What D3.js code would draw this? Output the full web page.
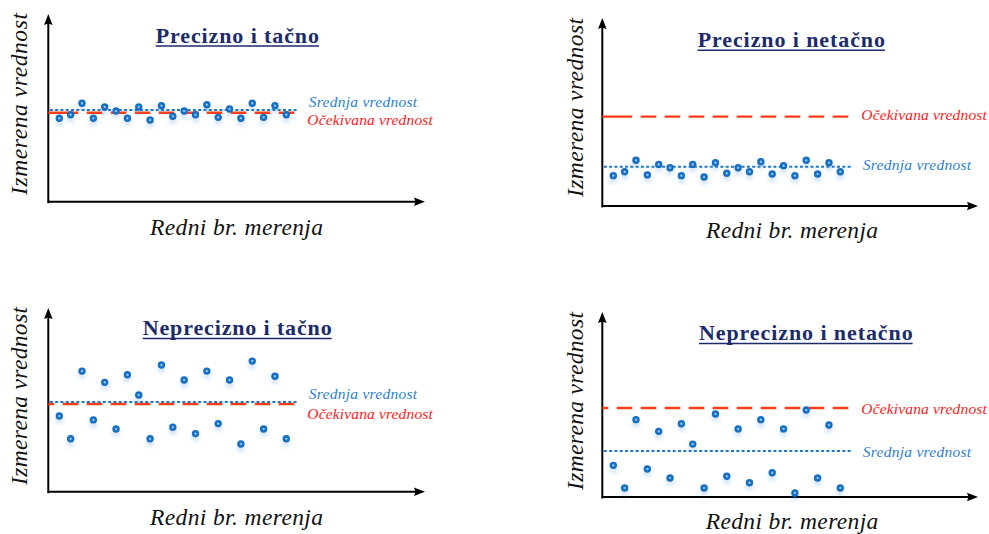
<!DOCTYPE html>
<html><head><meta charset="utf-8">
<script src="https://cdn.jsdelivr.net/npm/d3@7"></script>
<style>html,body{margin:0;padding:0;background:#fff;} svg{display:block;}</style>
</head><body>
<svg id="chart" width="989" height="534"></svg>
<script>
// ---------- DATA ----------
const measurementNo = [1,2,3,4,5,6,7,8,9,10,11,12,13,14,15,16,17,18,19,20,21];
const titles = ["Precizno i tačno", "Precizno i netačno", "Neprecizno i tačno", "Neprecizno i netačno"];
const xAxisLabel = "Redni br. merenja";
const yAxisLabel = "Izmerena vrednost";
const meanLabel = "Srednja vrednost";
const expectedLabel = "Očekivana vrednost";

const valuesPreciseAccurate   = [45.1, 47.0, 53.2, 45.1, 51.2, 49.0, 45.1, 51.2, 44.2, 51.9, 46.2, 49.0, 47.0, 52.4, 45.6, 50.1, 45.1, 53.2, 45.6, 51.9, 47.0];
const valuesPreciseInaccurate = [16.4, 18.5, 24.7, 16.8, 22.5, 20.7, 16.4, 22.5, 15.7, 23.4, 17.7, 20.7, 18.5, 23.9, 17.3, 21.8, 16.4, 24.7, 17.3, 23.4, 18.5];
const valuesImpreciseAccurate = [40.9, 28.6, 65.2, 38.8, 59.1, 33.9, 63.2, 52.3, 28.6, 68.5, 34.8, 60.4, 31.4, 65.2, 36.8, 60.4, 25.8, 70.6, 33.9, 62.4, 28.6];
const valuesImpreciseInaccurate = [17.1, 4.9, 41.8, 15.1, 35.5, 10.3, 39.6, 28.6, 4.9, 44.9, 11.2, 36.8, 7.7, 41.8, 13.1, 36.8, 2.2, 47.0, 10.3, 38.9, 4.9];
const meanValues     = [49.6, 21.2, 48.5, 24.9];
const expectedValues = [48.1, 48.3, 47.4, 48.1];

const seriesValues = [valuesPreciseAccurate, valuesPreciseInaccurate, valuesImpreciseAccurate, valuesImpreciseInaccurate];

// ---------- LAYOUT (positions / styles) ----------
const layout = [
  {ox:48.3,  oy:201.7, top:14,  right:425, titleX:237.3, titleY:42.5, titleW:163.3, xLabX:236.5, xLabY:235, xLabW:173,   yLabX:27,  yLabY:104,   yLabW:182, meanDy:-3,  expDy:12.6, longFirst:true},
  {ox:602.3, oy:206,   top:18,  right:978, titleX:791.3, titleY:46.7, titleW:187.3, xLabX:792,   xLabY:238, xLabW:172,   yLabX:583, yLabY:107.5, yLabW:179, meanDy:3.3, expDy:3.3,  longFirst:true},
  {ox:48.3,  oy:491.7, top:308, right:425, titleX:237.2, titleY:335,  titleW:189,   xLabX:236.5, xLabY:525, xLabW:173,   yLabX:27,  yLabY:396,   yLabW:178, meanDy:-2.7,expDy:15.3, longFirst:false},
  {ox:602.3, oy:497,   top:312, right:978, titleX:805.8, titleY:340,  titleW:213.7, xLabX:792,   xLabY:529, xLabW:172.6, yLabX:583, yLabY:401,   yLabW:178, meanDy:5.7, expDy:6,    longFirst:false}
];
const serif = "'Liberation Serif','Times New Roman',Times,serif";
const navy = "#1c2b6b", red = "#ff3c14", blue = "#1f77c8", blueText = "#2a7fd2", redText = "#ff1a1a";

const svg = d3.select("#chart");
svg.append("rect").attr("width", 989).attr("height", 534).attr("fill", "#fff");
const defs = svg.append("defs");
const grad = defs.append("radialGradient").attr("id", "dotGrad").attr("cx", "50%").attr("cy", "50%").attr("r", "50%");
[["0%", "#c4e1fa"], ["22%", "#7ab6ec"], ["42%", "#1a73c7"], ["100%", "#146abd"]].forEach(s =>
  grad.append("stop").attr("offset", s[0]).attr("stop-color", s[1]));
const filt = defs.append("filter").attr("id", "dotShadow").attr("x", "-150%").attr("y", "-150%").attr("width", "400%").attr("height", "400%");
filt.append("feDropShadow").attr("dx", 0).attr("dy", 4).attr("stdDeviation", 2.2)
  .attr("flood-color", "#4a90dc").attr("flood-opacity", 0.28);

function redDash(longFirst) {
  const arr = [longFirst ? 30 : 6, 8.4];
  for (let i = 0; i < 14; i++) arr.push(15.6, 8.4);
  return arr.join(",");
}

layout.forEach((L, i) => {
  const g = svg.append("g");
  const x = d3.scaleLinear().domain([1, 21]).range([L.ox + 11, L.ox + 238]);
  const y = d3.scaleLinear().domain([0, 100]).range([L.oy, L.oy - 185]);
  const lineX0 = x(1) - 11, lineX1 = x(21) + 9;

  // axes (no ticks) via d3 axis generators
  const yAxisScale = d3.scaleLinear().domain([0, 1]).range([L.oy + 1, L.top + 8]);
  const xAxisScale = d3.scaleLinear().domain([0, 1]).range([L.ox - 1, L.right - 8]);
  const ya = g.append("g").attr("transform", `translate(${L.ox - 0.5},0)`)
    .call(d3.axisLeft(yAxisScale).ticks(0).tickSizeOuter(0));
  const xa = g.append("g").attr("transform", `translate(0,${L.oy - 0.5})`)
    .call(d3.axisBottom(xAxisScale).ticks(0).tickSizeOuter(0));
  [ya, xa].forEach(a => a.select(".domain").attr("stroke", "#000").attr("stroke-width", 2));
  // arrowheads
  g.append("path").attr("fill", "#000")
    .attr("d", `M${L.ox},${L.top} L${L.ox + 4.3},${L.top + 11} L${L.ox},${L.top + 9.5} L${L.ox - 4.3},${L.top + 11} Z`);
  g.append("path").attr("fill", "#000")
    .attr("d", `M${L.right},${L.oy} L${L.right - 11},${L.oy + 4.3} L${L.right - 9.5},${L.oy} L${L.right - 11},${L.oy - 4.3} Z`);

  // expected value (red dashed)
  g.append("line").attr("x1", lineX0).attr("x2", lineX1)
    .attr("y1", y(expectedValues[i])).attr("y2", y(expectedValues[i]))
    .attr("stroke", red).attr("stroke-width", 2.4).attr("stroke-dasharray", redDash(L.longFirst));
  // mean value (blue dotted)
  g.append("line").attr("x1", lineX0 + 1.5).attr("x2", lineX1 + 2)
    .attr("y1", y(meanValues[i])).attr("y2", y(meanValues[i]))
    .attr("stroke", blue).attr("stroke-width", 2).attr("stroke-dasharray", "3,2.3");

  // points
  g.append("g").selectAll("circle").data(seriesValues[i]).join("circle")
    .attr("cx", (d, j) => x(measurementNo[j])).attr("cy", d => y(d))
    .attr("r", 3.7).attr("fill", "url(#dotGrad)").attr("filter", "url(#dotShadow)");

  // labels for lines
  g.append("text").attr("x", L.ox + 260.5).attr("y", y(meanValues[i]) + L.meanDy)
    .attr("font-family", serif).attr("font-style", "italic").attr("font-size", 15.5)
    .attr("fill", blueText).attr("textLength", 108.3).attr("lengthAdjust", "spacing").text(meanLabel);
  g.append("text").attr("x", L.ox + 259).attr("y", y(expectedValues[i]) + L.expDy)
    .attr("font-family", serif).attr("font-style", "italic").attr("font-size", 15.5)
    .attr("fill", redText).attr("textLength", 125.5).attr("lengthAdjust", "spacing").text(expectedLabel);

  // title
  g.append("text").attr("x", L.titleX).attr("y", L.titleY).attr("text-anchor", "middle")
    .attr("font-family", serif).attr("font-weight", "bold").attr("font-size", 22)
    .attr("fill", navy).attr("textLength", L.titleW).attr("lengthAdjust", "spacing").text(titles[i]);
  g.append("line").attr("x1", L.titleX - L.titleW / 2).attr("x2", L.titleX + L.titleW / 2)
    .attr("y1", L.titleY + 3.5).attr("y2", L.titleY + 3.5).attr("stroke", navy).attr("stroke-width", 1.6);

  // axis labels
  g.append("text").attr("x", L.xLabX).attr("y", L.xLabY).attr("text-anchor", "middle")
    .attr("font-family", serif).attr("font-style", "italic").attr("font-size", 23.5)
    .attr("fill", "#111").attr("textLength", L.xLabW).attr("lengthAdjust", "spacing").text(xAxisLabel);
  g.append("text").attr("transform", `translate(${L.yLabX},${L.yLabY}) rotate(-90)`).attr("text-anchor", "middle")
    .attr("font-family", serif).attr("font-style", "italic").attr("font-size", 23.5)
    .attr("fill", "#111").attr("textLength", L.yLabW).attr("lengthAdjust", "spacing").text(yAxisLabel);
});
</script>
</body></html>
